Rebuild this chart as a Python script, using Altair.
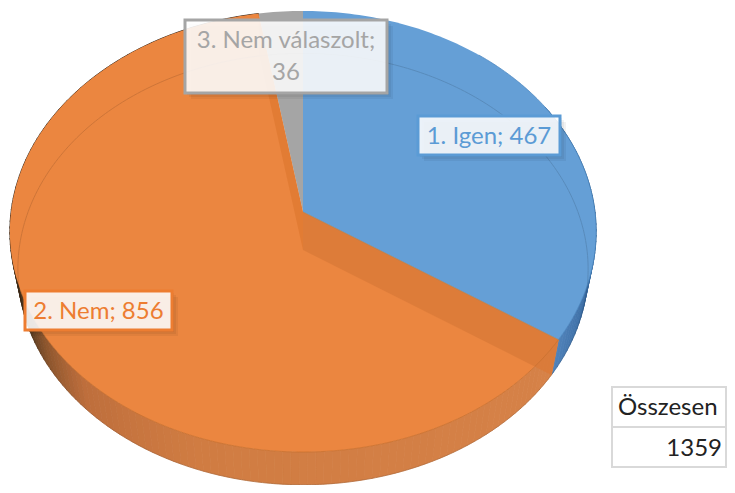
import math
import altair as alt

categories = ["1. Igen", "2. Nem", "3. Nem válaszolt"]
values = [467, 856, 36]
total_label = "Összesen"
total_value = "1359"

FACE = ["#659FD6", "#EB8640", "#A5A5A5"]
TEXTC = ["#5B9BD5", "#ED7D31", "#A5A5A5"]

K = 0.0884
TOP = dict(cx=303, cy=212, R=292, S=218.8)
BOT = dict(cx=303, cy=250, R=284, S=214)


def proj(a, p):
    r = math.radians(a)
    u, v = math.sin(r), -math.cos(r)
    d = 1 - K * v
    return [p["cx"] + p["R"] * u / d, p["cy"] + p["S"] * v / d]


def arc(a0, a1, p, step=1.0):
    n = max(2, int(abs(a1 - a0) / step))
    return [proj(a0 + (a1 - a0) * i / n, p) for i in range(n + 1)]


def poly(pts, c):
    return {"type": "Feature", "properties": {"c": c},
            "geometry": {"type": "Polygon", "coordinates": [pts + [pts[0]]]}}


def line(pts, c):
    return {"type": "Feature", "properties": {"c": c},
            "geometry": {"type": "LineString", "coordinates": pts}}


def shade(a, stops):
    for (a0, c0), (a1, c1) in zip(stops, stops[1:]):
        if a0 <= a <= a1:
            t = (a - a0) / (a1 - a0)
            rgb = [round(x + (y - x) * t) for x, y in zip(c0, c1)]
            return "#%02x%02x%02x" % tuple(rgb)
    return "#%02x%02x%02x" % tuple(stops[-1][1])


total = sum(values)
a_blue = values[0] / total * 360
a_orange = a_blue + values[1] / total * 360
apex_t = [TOP["cx"], TOP["cy"]]
apex_b = [BOT["cx"], BOT["cy"]]

ORANGE_STOPS = [(a_blue, (214, 130, 72)), (200, (208, 124, 66)), (225, (190, 110, 60)),
                (238, (140, 85, 45)), (250, (80, 55, 30)), (272, (40, 30, 20)), (360, (40, 30, 20))]
BLUE_STOPS = [(0, (40, 85, 130)), (92, (40, 85, 130)), (110, (60, 110, 165)), (a_blue, (80, 130, 185))]

walls = []
a = 60.0
while a < a_orange:
    b = min(a + 1.5, a_orange)
    if a < a_blue:
        b = min(b, a_blue)
        c = shade((a + b) / 2, BLUE_STOPS)
    else:
        c = shade((a + b) / 2, ORANGE_STOPS)
    walls.append(poly(arc(a, b, TOP) + arc(b, a, BOT), c))
    a = b

faces = [
    poly([apex_t] + arc(0, a_blue, TOP), FACE[0]),
    poly([apex_t] + arc(a_blue, a_orange, TOP), FACE[1]),
    poly([apex_t] + arc(a_orange, 360, TOP), FACE[2]),
]

inner = [
    poly([apex_t, proj(a_blue, TOP), proj(a_blue, BOT), apex_b], "#DB7A38"),
    poly([proj(a_orange, TOP), apex_t, apex_b, proj(a_orange, BOT)], "#E07A32"),
]

rims = [
    line(arc(a_blue, 250, TOP), "#C8702E"),
    line(arc(40, a_blue, TOP), "#4A86C0"),
    line([apex_t, proj(a_blue, TOP)], "#A08060"),
]

faint = [line(arc(a_orange - 360, a_orange, BOT), "#000000")]


def geo(features, **mark):
    return alt.Chart(alt.Data(values=features)).mark_geoshape(**mark).encode(
        color=alt.Color("properties.c:N", scale=None),
        stroke=alt.Stroke("properties.c:N", scale=None),
    ).project(type="identity", scale=1, translate=[-8, -8])


def geo_line(features, **mark):
    return alt.Chart(alt.Data(values=features)).mark_geoshape(filled=False, **mark).encode(
        stroke=alt.Stroke("properties.c:N", scale=None)
    ).project(type="identity", scale=1, translate=[-8, -8])


X = alt.Scale(domain=[8, 727])
Y = alt.Scale(domain=[485, 8])

boxes = [
    dict(x=418, x2=560, y=116, y2=155, c=TEXTC[0]),
    dict(x=25, x2=172, y=291, y2=330, c=TEXTC[1]),
    dict(x=185, x2=387, y=20, y2=93, c=TEXTC[2]),
]
shadows = [dict(x=b["x"] + d, x2=b["x2"] + d, y=b["y"] + d, y2=b["y2"] + d)
           for b in boxes for d in (2, 4, 6)]


def rect_enc():
    return dict(
        x=alt.X("x:Q", scale=X, axis=None), x2="x2:Q",
        y=alt.Y("y:Q", scale=Y, axis=None), y2="y2:Q",
    )


shadow_layer = alt.Chart(alt.Data(values=shadows)).mark_rect(
    fill="#000000", opacity=0.05).encode(**rect_enc())
box_layer = alt.Chart(alt.Data(values=boxes)).mark_rect(
    strokeWidth=3, fill="#FFFFFF", fillOpacity=0.88).encode(
    stroke=alt.Stroke("c:N", scale=None), **rect_enc())

labels = [
    dict(x=489, y=137, t=f"{categories[0]}; {values[0]}", c=TEXTC[0]),
    dict(x=98.5, y=312, t=f"{categories[1]}; {values[1]}", c=TEXTC[1]),
    dict(x=286, y=41, t=f"{categories[2]};", c=TEXTC[2]),
    dict(x=286, y=73, t=f"{values[2]}", c=TEXTC[2]),
]
label_layer = alt.Chart(alt.Data(values=labels)).mark_text(
    font="Lato", fontSize=24, align="center", baseline="middle").encode(
    x=alt.X("x:Q", scale=X, axis=None), y=alt.Y("y:Q", scale=Y, axis=None),
    text="t:N", color=alt.Color("c:N", scale=None))

cells = [dict(x=612, x2=726, y=387, y2=427), dict(x=612, x2=726, y=427, y2=467)]
cell_layer = alt.Chart(alt.Data(values=cells)).mark_rect(
    fill="#FFFFFF", stroke="#D9D9D9", strokeWidth=2).encode(**rect_enc())
table_text = [
    dict(x=618, y=408, t=total_label),
    dict(x=722, y=449, t=total_value),
]
table_l = alt.Chart(alt.Data(values=table_text[:1])).mark_text(
    font="Lato", fontSize=24, align="left", baseline="middle", color="#222222").encode(
    x=alt.X("x:Q", scale=X, axis=None), y=alt.Y("y:Q", scale=Y, axis=None), text="t:N")
table_r = alt.Chart(alt.Data(values=table_text[1:])).mark_text(
    font="Lato", fontSize=24, align="right", baseline="middle", color="#222222").encode(
    x=alt.X("x:Q", scale=X, axis=None), y=alt.Y("y:Q", scale=Y, axis=None), text="t:N")

chart = alt.layer(
    geo(walls, strokeWidth=0.8),
    geo(faces, strokeWidth=0),
    geo_line(faint, strokeWidth=1, opacity=0.12),
    geo(inner, strokeWidth=0, opacity=0.85),
    geo_line(rims, strokeWidth=1, opacity=0.7),
    shadow_layer, box_layer, label_layer,
    cell_layer, table_l, table_r,
).properties(width=719, height=477, padding=0, background="#FFFFFF",
             autosize=alt.AutoSizeParams(type="none")).configure_view(strokeWidth=0)

chart.save("out.html", embed_options={"renderer": "svg", "actions": False})
